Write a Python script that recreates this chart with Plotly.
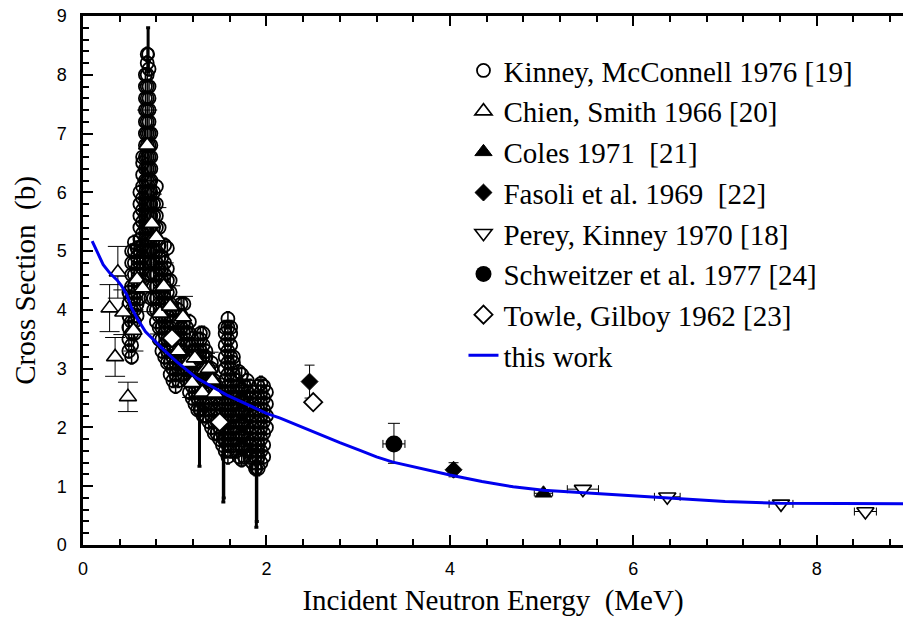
import plotly.graph_objects as go

# ---------------- data ----------------
# Kinney, McConnell 1976 : dense resonance data, grouped by energy columns
kinney_e_cols = [0.50, 0.53, 0.56, 0.59, 0.62, 0.65, 0.68, 0.70, 0.72, 0.74,
                 0.77, 0.80, 0.83, 0.86, 0.89, 0.92, 0.95, 0.98, 1.01, 1.04,
                 1.07, 1.10, 1.13, 1.16, 1.19, 1.22, 1.25, 1.28, 1.31, 1.34,
                 1.37, 1.40, 1.43, 1.46, 1.49, 1.52, 1.55, 1.58, 1.61, 1.64,
                 1.67, 1.70, 1.73, 1.76, 1.79, 1.82, 1.85, 1.88, 1.91, 1.94,
                 1.97, 2.00]
kinney_s_cols = [
    [3.3, 3.5, 3.7, 3.9, 4.1, 4.3],
    [3.2, 3.4, 3.6, 3.8, 4.0, 4.2, 4.4, 4.6, 4.8, 5.0],
    [3.6, 3.8, 4.0, 4.2, 4.4, 4.6, 4.8, 5.0, 5.15],
    [3.9, 4.1, 4.3, 4.5, 4.7, 4.9, 5.05],
    [4.2, 4.4, 4.6, 4.8, 5.0, 5.2, 5.4, 5.6, 5.8, 6.0],
    [4.5, 4.7, 4.9, 5.1, 5.3, 5.5, 5.7, 5.9, 6.1, 6.3, 6.5, 6.6],
    [4.8, 5.0, 5.2, 5.4, 5.6, 5.8, 6.0, 6.2, 6.4, 6.6, 6.8, 7.0, 7.2, 7.4, 7.6, 7.8, 8.0],
    [5.0, 5.2, 5.4, 5.6, 5.8, 6.0, 6.2, 6.4, 6.6, 6.8, 7.0, 7.2, 7.4, 7.6, 7.8, 8.0, 8.2, 8.35],
    [4.6, 4.8, 5.0, 5.2, 5.4, 5.6, 5.8, 6.0, 6.2, 6.4, 6.6, 6.8, 7.0, 7.2, 7.4, 7.6, 7.8, 8.1],
    [4.2, 4.4, 4.6, 4.8, 5.0, 5.2, 5.4, 5.6, 5.8, 6.0, 6.2, 6.4, 6.6, 6.8, 7.0],
    [4.0, 4.2, 4.4, 4.6, 4.8, 5.0, 5.2, 5.4, 5.6, 5.8, 6.0],
    [3.8, 4.0, 4.2, 4.4, 4.6, 4.8, 5.0, 5.2, 5.4, 5.6, 5.8, 6.1],
    [3.5, 3.7, 3.9, 4.1, 4.3, 4.5, 4.7, 4.9, 5.1, 5.4],
    [3.3, 3.5, 3.7, 3.9, 4.1, 4.3, 4.5, 4.7, 4.9],
    [3.2, 3.4, 3.6, 3.8, 4.0, 4.2, 4.4, 4.6, 4.8, 5.1],
    [3.1, 3.3, 3.5, 3.7, 3.9, 4.1, 4.3, 4.5, 4.7, 5.05],
    [2.9, 3.1, 3.3, 3.5, 3.7, 3.9, 4.1, 4.3, 4.5],
    [2.8, 3.0, 3.2, 3.4, 3.6, 3.8, 4.0],
    [2.7, 2.9, 3.1, 3.3, 3.5, 3.6],
    [2.8, 3.0, 3.2, 3.4, 3.6, 3.8, 4.0],
    [2.9, 3.1, 3.3, 3.5, 3.7, 3.9, 4.1],
    [3.0, 3.2, 3.4, 3.6, 3.8, 4.1],
    [2.8, 3.0, 3.2, 3.4, 3.6, 3.7],
    [2.6, 2.8, 3.0, 3.2, 3.4, 3.6, 3.8],
    [2.5, 2.7, 2.9, 3.1, 3.3, 3.4],
    [2.4, 2.6, 2.8, 3.0, 3.2, 3.3],
    [2.3, 2.5, 2.7, 2.9, 3.1, 3.3, 3.5],
    [2.3, 2.5, 2.7, 2.9, 3.1, 3.3, 3.5, 3.6],
    [2.2, 2.4, 2.6, 2.8, 3.0, 3.2, 3.4, 3.6],
    [2.2, 2.4, 2.6, 2.8, 3.0, 3.2, 3.3],
    [2.1, 2.3, 2.5, 2.7, 2.9, 3.0],
    [2.0, 2.2, 2.4, 2.6, 2.8, 3.0, 3.1],
    [1.9, 2.1, 2.3, 2.5, 2.7, 2.8],
    [1.9, 2.1, 2.3, 2.5, 2.7],
    [1.8, 2.0, 2.2, 2.4, 2.6],
    [1.7, 1.9, 2.1, 2.3, 2.5, 2.6],
    [1.6, 1.8, 2.0, 2.2, 2.4, 2.6, 2.8, 3.0, 3.2, 3.4, 3.6, 3.7],
    [1.5, 1.7, 1.9, 2.1, 2.3, 2.5, 2.7, 2.9, 3.1, 3.3, 3.5, 3.7, 3.85],
    [1.6, 1.8, 2.0, 2.2, 2.4, 2.6, 2.8, 3.0, 3.2, 3.4, 3.6, 3.7],
    [1.7, 1.9, 2.1, 2.3, 2.5, 2.7, 2.9, 3.1, 3.2],
    [1.6, 1.8, 2.0, 2.2, 2.4, 2.6, 2.8],
    [1.5, 1.7, 1.9, 2.1, 2.3, 2.5, 2.7, 2.95],
    [1.45, 1.65, 1.85, 2.05, 2.25, 2.45, 2.65, 2.9],
    [1.5, 1.7, 1.9, 2.1, 2.3, 2.5, 2.7],
    [1.6, 1.8, 2.0, 2.2, 2.4, 2.6, 2.8],
    [1.5, 1.7, 1.9, 2.1, 2.3, 2.5, 2.7],
    [1.4, 1.6, 1.8, 2.0, 2.2, 2.4, 2.6],
    [1.3, 1.5, 1.7, 1.9, 2.1, 2.3, 2.5],
    [1.3, 1.5, 1.7, 1.9, 2.1, 2.3, 2.5, 2.7],
    [1.4, 1.6, 1.8, 2.0, 2.2, 2.4, 2.6, 2.75],
    [1.5, 1.7, 1.9, 2.1, 2.3, 2.5, 2.7],
    [2.0, 2.2, 2.4, 2.6],
]
# Kinney points with large error bars (deep dips / top of peak)
kinney_spike_e = [0.71, 1.27, 1.53, 1.535, 1.89, 1.895]
kinney_spike_s = [8.35, 2.30, 1.80, 2.00, 1.30, 1.60]
kinney_spike_up = [0.45, 0.10, 0.10, 0.10, 0.10, 0.10]
kinney_spike_dn = [0.30, 0.96, 1.07, 1.20, 1.00, 1.20]

# Chien, Smith 1966
chien_e = [0.29, 0.35, 0.38, 0.44, 0.49, 0.55, 0.59, 0.65, 0.70, 0.75, 0.80, 0.84,
           0.88, 0.95, 1.04, 1.09, 1.15, 1.19, 1.22, 1.30, 1.33, 1.37, 1.41, 1.44]
chien_s = [4.03, 3.20, 4.64, 3.96, 2.52, 3.65, 4.52, 4.37, 6.80, 5.47, 5.24, 3.94,
           4.40, 4.06, 3.30, 3.88, 3.10, 2.76, 3.18, 2.60, 2.98, 3.00, 2.80, 2.58]
chien_err = [0.40, 0.33, 0.44, 0.38, 0.25, 0.35, 0.40, 0.40, 0.60, 0.50, 0.50, 0.35,
             0.40, 0.35, 0.30, 0.35, 0.30, 0.25, 0.30, 0.25, 0.28, 0.28, 0.25, 0.25]

# Coles 1971
coles_e = [5.02]
coles_s = [0.88]
coles_err = [0.05]

# Fasoli et al. 1969
fasoli_e = [2.47, 4.04]
fasoli_s = [2.78, 1.28]
fasoli_err = [0.28, 0.12]

# Perey, Kinney 1970
perey_e = [5.45, 6.37, 7.61, 8.53]
perey_s = [0.95, 0.82, 0.70, 0.57]
perey_xerr = [0.17, 0.14, 0.13, 0.12]
perey_err = [0.04, 0.04, 0.04, 0.04]

# Schweitzer et al. 1977
schw_e = [3.39]
schw_s = [1.72]
schw_up = [0.35]
schw_dn = [0.33]
schw_xerr = [0.12]

# Towle, Gilboy 1962
towle_e = [0.97, 1.49, 2.51]
towle_s = [3.52, 2.09, 2.43]
towle_err = [0.05, 0.05, 0.05]

# this work
work_e = [0.10, 0.15, 0.22, 0.29, 0.37, 0.42, 0.48, 0.53, 0.60, 0.68, 0.77, 0.88,
          1.02, 1.24, 1.57, 2.00, 2.15, 2.50, 2.80, 3.02, 3.20, 3.38, 3.70, 4.00,
          4.35, 4.69, 5.02, 5.64, 6.37, 7.00, 7.60, 8.30, 8.94]
work_s = [5.17, 4.99, 4.77, 4.63, 4.51, 4.41, 4.25, 4.03, 3.83, 3.63, 3.49, 3.32,
          3.12, 2.84, 2.55, 2.24, 2.16, 1.93, 1.74, 1.61, 1.50, 1.41, 1.29, 1.19,
          1.08, 0.99, 0.93, 0.87, 0.79, 0.74, 0.71, 0.70, 0.70]

# ---------------- figure ----------------
kin_x, kin_y = [], []
for e, col in zip(kinney_e_cols, kinney_s_cols):
    for s in col:
        kin_x.append(e)
        kin_y.append(s)

SERIF = "Liberation Serif"
SANS = "Liberation Sans"

fig = go.Figure()

fig.add_trace(go.Scatter(
    x=kinney_spike_e, y=kinney_spike_s, mode="markers", showlegend=False,
    legendgroup="g1",
    marker=dict(symbol="circle-open", size=12, color="black", line=dict(width=1.8)),
    error_y=dict(type="data", array=kinney_spike_up, arrayminus=kinney_spike_dn,
                 color="black", thickness=3, width=2)))

fig.add_trace(go.Scatter(
    x=kin_x, y=kin_y, mode="markers", name="Kinney, McConnell 1976 [19]",
    legendgroup="g1",
    marker=dict(symbol="circle-open", size=13, color="black", line=dict(width=1.8)),
    error_y=dict(type="constant", value=0.12, color="black", thickness=1.5, width=2)))

fig.add_trace(go.Scatter(
    x=chien_e, y=chien_s, mode="markers", name="Chien, Smith 1966 [20]",
    legendgroup="g2",
    marker=dict(symbol="triangle-up", size=15, color="white",
                line=dict(width=1.6, color="black")),
    error_y=dict(type="data", array=chien_err, color="black", thickness=1, width=10)))

fig.add_trace(go.Scatter(
    x=coles_e, y=coles_s, mode="markers", name="Coles 1971  [21]",
    legendgroup="g3",
    marker=dict(symbol="triangle-up", size=15, color="black",
                line=dict(width=1, color="black")),
    error_y=dict(type="data", array=coles_err, color="black", thickness=1, width=6),
    error_x=dict(type="data", array=[0.1], color="black", thickness=1, width=3)))

fig.add_trace(go.Scatter(
    x=fasoli_e, y=fasoli_s, mode="markers", name="Fasoli et al. 1969  [22]",
    legendgroup="g4",
    marker=dict(symbol="diamond", size=13, color="black",
                line=dict(width=1, color="black")),
    error_y=dict(type="data", array=fasoli_err, color="black", thickness=1, width=5)))

fig.add_trace(go.Scatter(
    x=perey_e, y=perey_s, mode="markers", name="Perey, Kinney 1970 [18]",
    legendgroup="g5",
    marker=dict(symbol="triangle-down", size=15, color="white",
                line=dict(width=1.6, color="black")),
    error_y=dict(type="data", array=perey_err, color="black", thickness=1, width=4),
    error_x=dict(type="data", array=perey_xerr, color="black", thickness=1, width=4)))

fig.add_trace(go.Scatter(
    x=schw_e, y=schw_s, mode="markers", name="Schweitzer et al. 1977 [24]",
    legendgroup="g6",
    marker=dict(symbol="circle", size=17, color="black"),
    error_y=dict(type="data", array=schw_up, arrayminus=schw_dn, color="black",
                 thickness=1, width=6),
    error_x=dict(type="data", array=schw_xerr, color="black", thickness=1, width=4)))

fig.add_trace(go.Scatter(
    x=towle_e, y=towle_s, mode="markers", name="Towle, Gilboy 1962 [23]",
    legendgroup="g7",
    marker=dict(symbol="diamond", size=14, color="white",
                line=dict(width=1.8, color="black")),
    error_y=dict(type="data", array=towle_err, color="black", thickness=1, width=4)))

fig.add_trace(go.Scatter(
    x=work_e, y=work_s, mode="lines", name="this work", legendgroup="g8",
    line=dict(color="#0000ee", width=3)))

# top axis (ticks only)
fig.add_trace(go.Scatter(x=[0], y=[0], xaxis="x2", mode="markers",
                         marker=dict(opacity=0), showlegend=False, hoverinfo="skip"))

axis_common = dict(showline=True, linecolor="black", linewidth=2.5,
                   ticks="inside", ticklen=10, tickwidth=2, tickcolor="black",
                   showgrid=False, zeroline=False)

fig.update_layout(
    width=903, height=621,
    margin=dict(l=83, r=0, t=16, b=76),
    paper_bgcolor="white", plot_bgcolor="white",
    showlegend=True,
    legend=dict(x=0.464, y=0.945, xanchor="left", yanchor="top",
                font=dict(family=SERIF, size=29, color="black"),
                bgcolor="rgba(0,0,0,0)", traceorder="grouped",
                tracegroupgap=0, itemwidth=30),
    xaxis=dict(range=[0, 8.94], dtick=2, tick0=0,
               minor=dict(dtick=0.4, ticks="inside", ticklen=6, tickwidth=2,
                          tickcolor="black"),
               tickfont=dict(family=SANS, size=18, color="black"),
               ticklabelstandoff=6,
               title=dict(text="Incident Neutron Energy\u00a0\u00a0(MeV)",
                          font=dict(family=SERIF, size=29, color="black"),
                          standoff=12),
               **axis_common),
    xaxis2=dict(range=[0, 8.94], overlaying="x", side="top", dtick=2, tick0=0,
                showticklabels=False,
                minor=dict(dtick=0.4, ticks="inside", ticklen=6, tickwidth=2,
                           tickcolor="black"),
                **axis_common),
    yaxis=dict(range=[0, 9], dtick=1, tick0=0,
               minor=dict(dtick=0.2, ticks="inside", ticklen=6, tickwidth=2,
                          tickcolor="black"),
               tickfont=dict(family=SANS, size=18, color="black"),
               ticklabelstandoff=10,
               title=dict(text="Cross Section\u00a0\u00a0(b)",
                          font=dict(family=SERIF, size=29, color="black"),
                          standoff=13),
               **axis_common),
)

fig.write_html("out.html")
